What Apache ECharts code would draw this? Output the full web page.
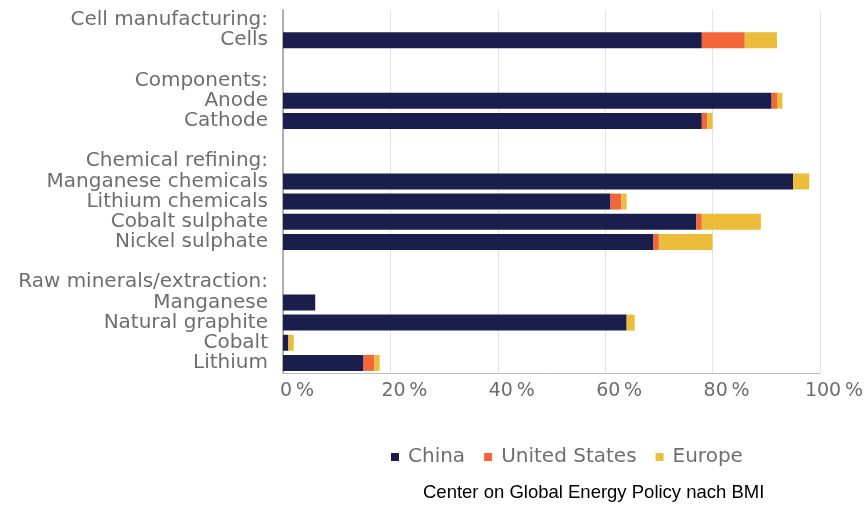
<!DOCTYPE html>
<html>
<head>
<meta charset="utf-8">
<script src="https://cdn.jsdelivr.net/npm/echarts@6/dist/echarts.min.js"></script>
<style>
html,body{margin:0;padding:0;background:#fff;}
#c{width:866px;height:506px;}
</style>
</head>
<body>
<div id="c"></div>
<script>
const categories = ['Cell manufacturing:', 'Cells', ' ', 'Components:', 'Anode', 'Cathode', '  ', 'Chemical refining:', 'Manganese chemicals', 'Lithium chemicals', 'Cobalt sulphate', 'Nickel sulphate', '   ', 'Raw minerals/extraction:', 'Manganese', 'Natural graphite', 'Cobalt', 'Lithium'];
const china  = [null, 78, null, null, 91, 78, null, null, 95, 61, 77, 69, null, null, 6, 64, 1, 15];
const us     = [null, 8, null, null, 1, 1, null, null, null, 2, 1, 1, null, null, null, null, null, 2];
const europe = [null, 6, null, null, 1, 1, null, null, 3, 1, 11, 10, null, null, null, 1.5, 1, 1];
const seriesNames = ['China', 'United States', 'Europe'];
const xTicks = [0, 20, 40, 60, 80, 100];
const sourceText = 'Center on Global Energy Policy nach BMI';

const FONT = 'DejaVu Sans';
const colors = ['#1b1e4d', '#f26639', '#ebbd3a'];
const chart = echarts.init(document.getElementById('c'), null, {renderer: 'canvas'});
const mk = (name, data, i) => ({
  name: name, type: 'bar', stack: 'total', data: data, barWidth: 16,
  itemStyle: {color: colors[i]}, emphasis: {disabled: true}
});
chart.setOption({
  animation: false,
  color: colors,
  grid: {left: 283, right: 46, top: 10, bottom: 133, containLabel: false},
  xAxis: {
    type: 'value', min: xTicks[0], max: xTicks[xTicks.length - 1], interval: 20,
    axisLine: {show: true, lineStyle: {color: '#bbbbbb', width: 1}},
    axisTick: {show: false},
    splitLine: {show: true, lineStyle: {color: '#e4e4e4', width: 1}},
    axisLabel: {formatter: v => v + '\u2009%', color: '#6e6e6e', fontFamily: FONT, fontSize: 19, margin: 9, padding: [0, 0, 0, 28]}
  },
  yAxis: {
    type: 'category', data: categories, inverse: true,
    axisLine: {show: true, lineStyle: {color: '#999999', width: 1.5}},
    axisTick: {show: false},
    axisLabel: {color: '#6e6e6e', fontFamily: FONT, fontSize: 20, margin: 15, interval: 0}
  },
  legend: {
    data: seriesNames, left: 386, top: 442, icon: 'rect', itemWidth: 8, itemHeight: 8, itemGap: 19,
    textStyle: {color: '#6e6e6e', fontFamily: FONT, fontSize: 20, padding: [0, 0, 0, 4]}
  },
  graphic: [{
    type: 'text', left: 423, top: 483,
    style: {text: sourceText, fill: '#000', font: '18.5px "Liberation Sans", Arial, sans-serif'}
  }],
  series: [mk(seriesNames[0], china, 0), mk(seriesNames[1], us, 1), mk(seriesNames[2], europe, 2)]
});
</script>
</body>
</html>
